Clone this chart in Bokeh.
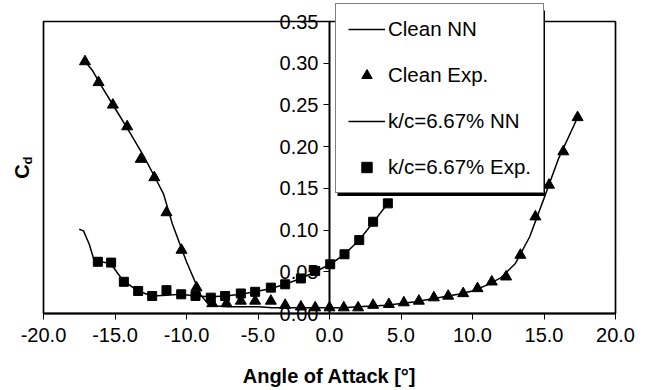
import numpy as np
from bokeh.plotting import figure
from bokeh.models import (Range1d, FixedTicker, NumeralTickFormatter, Legend,
                          LegendItem, Label, BoxAnnotation)
from bokeh.embed import file_html
from bokeh.resources import INLINE

# ---- data ----
clean_exp_x = [-17.1, -16.15, -15.15, -14.15, -13.2, -12.25, -11.4, -10.35, -9.3,
               -8.2, -7.2, -6.2, -5.2, -4.1, -3.1, -2.0, -1.0, 0.0, 1.0, 2.0,
               3.05, 4.15, 5.2, 6.25, 7.3, 8.3, 9.35, 10.35, 11.35, 12.35, 13.35,
               14.4, 15.35, 16.35, 17.35]
clean_exp_y = [0.302, 0.277, 0.250, 0.224, 0.185, 0.163, 0.121, 0.076, 0.031,
               0.012, 0.012, 0.015, 0.015, 0.015, 0.010, 0.008, 0.007, 0.007, 0.007, 0.007,
               0.010, 0.011, 0.013, 0.015, 0.019, 0.021, 0.024, 0.030, 0.038, 0.044, 0.070,
               0.116, 0.154, 0.194, 0.235]

clean_nn_x = [-17.1, -16.6, -16.0, -15.0, -14.0, -13.0, -12.2, -11.6, -11.0, -10.0,
              -9.0, -8.5, -8.0, -7.0, -6.0, -5.0, -4.0, -3.0, -2.0, -1.0, 0.0, 1.0,
              2.0, 3.0, 4.0, 5.0, 6.0, 7.0, 8.0, 9.0, 10.0, 11.0, 12.0, 13.0, 14.0,
              15.0, 16.0, 17.35]
clean_nn_y = [0.302, 0.292, 0.274, 0.246, 0.218, 0.189, 0.163, 0.143, 0.108, 0.062,
              0.022, 0.012, 0.009, 0.008, 0.008, 0.008, 0.007, 0.007, 0.007, 0.007, 0.007, 0.007,
              0.008, 0.009, 0.010, 0.012, 0.014, 0.017, 0.020, 0.023, 0.027, 0.034, 0.043, 0.060, 0.092,
              0.138, 0.185, 0.235]

rough_exp_x = [-16.2, -15.27, -14.38, -13.38, -12.4, -11.4, -10.37, -9.37, -8.3, -7.3,
               -6.2, -5.2, -4.1, -3.1, -2.0, -1.0, 0.05, 1.05, 2.08, 3.05, 4.08]
rough_exp_y = [0.062, 0.061, 0.038, 0.027, 0.021, 0.028, 0.023, 0.021, 0.019, 0.021,
               0.024, 0.026, 0.031, 0.035, 0.042, 0.051, 0.059, 0.071, 0.088, 0.110, 0.132]

rough_nn_x = [-17.5, -17.2, -16.8, -16.5, -16.0, -15.3, -14.8, -14.4, -13.4, -12.4,
              -11.4, -10.4, -9.4, -8.3, -7.3, -6.2, -5.2, -4.1, -3.1, -2.0, -1.0,
              0.05, 1.05, 2.08, 3.05, 4.08]
rough_nn_y = [0.101, 0.099, 0.083, 0.066, 0.062, 0.060, 0.048, 0.039, 0.027, 0.021,
              0.022, 0.023, 0.021, 0.020, 0.021, 0.023, 0.026, 0.030, 0.035, 0.042, 0.050,
              0.059, 0.071, 0.088, 0.109, 0.132]

x_ticks = [-20, -15, -10, -5, 0, 5, 10, 15, 20]
y_ticks = [0.0, 0.05, 0.10, 0.15, 0.20, 0.25, 0.30, 0.35]
x_lo, x_hi = -20, 20
y_lo, y_hi = 0.0, 0.35

FONT = "Liberation Sans"
W, H = 648, 390
# plot-area placement on the canvas (pixels)
PL, PR, PT, PB = 43, 33, 21, 77
sx = (W - PL - PR) / (x_hi - x_lo)
sy = (H - PT - PB) / (y_hi - y_lo)

p = figure(width=W, height=H, output_backend="svg", toolbar_location=None,
           x_range=Range1d(x_lo - PL / sx, x_hi + PR / sx),
           y_range=Range1d(y_lo - PB / sy, y_hi + PT / sy),
           min_border=0)
p.grid.visible = False
p.outline_line_color = None
p.background_fill_color = "white"
p.border_fill_color = "white"

# plot-area border
p.add_layout(BoxAnnotation(left=x_lo, right=x_hi, bottom=y_lo, top=y_hi,
                           fill_color=None, fill_alpha=0, line_color="black",
                           line_alpha=1.0, line_width=1.7, level="underlay"))

# x axis along y = 0
xa = p.xaxis[0]
xa.fixed_location = 0
xa.bounds = (x_lo, x_hi)
xa.ticker = FixedTicker(ticks=x_ticks)
xa.formatter = NumeralTickFormatter(format="0.0")
xa.axis_line_width = 2
xa.major_tick_out = 6
xa.major_tick_in = 0
xa.minor_tick_out = 0
xa.minor_tick_in = 0
xa.major_label_standoff = 8
xa.major_label_text_font = FONT
xa.major_label_text_font_size = "20px"
xa.major_label_text_color = "black"
xa.axis_label = "Angle of Attack [°]"
xa.axis_label_text_font = FONT
xa.axis_label_text_font_size = "20px"
xa.axis_label_text_font_style = "bold"
xa.axis_label_text_color = "black"
xa.axis_label_standoff = 20

# y axis at x = 0
ya = p.yaxis[0]
ya.fixed_location = 0
ya.bounds = (y_lo, y_hi)
ya.ticker = FixedTicker(ticks=y_ticks)
ya.formatter = NumeralTickFormatter(format="0.00")
ya.axis_line_width = 2
ya.major_tick_out = 6
ya.major_tick_in = 0
ya.minor_tick_out = 0
ya.minor_tick_in = 0
ya.major_label_standoff = 5
ya.major_label_text_font = FONT
ya.major_label_text_font_size = "20px"
ya.major_label_text_color = "black"

r1 = p.line(clean_nn_x, clean_nn_y, line_color="black", line_width=1.5)
r2 = p.scatter(clean_exp_x, clean_exp_y, marker="triangle", size=11,
               fill_color="black", line_color="black")
r3 = p.line(rough_nn_x, rough_nn_y, line_color="black", line_width=1.5)
r4 = p.scatter(rough_exp_x, rough_exp_y, marker="square", size=9,
               fill_color="black", line_color="black")

# legend drop shadow (screen pixels, from the bottom-left of the canvas)
p.add_layout(BoxAnnotation(left=337, right=544.5, bottom=194.5, top=H - 10,
                           left_units="screen", right_units="screen",
                           bottom_units="screen", top_units="screen",
                           fill_color="black", fill_alpha=1.0, line_alpha=0))

legend = Legend(items=[LegendItem(label="Clean NN", renderers=[r1]),
                       LegendItem(label="Clean Exp.", renderers=[r2]),
                       LegendItem(label="k/c=6.67% NN", renderers=[r3]),
                       LegendItem(label="k/c=6.67% Exp.", renderers=[r4])],
                location=(335, 197), margin=0, padding=12, spacing=20,
                glyph_width=37, glyph_height=26, label_height=26,
                label_standoff=3, label_text_font=FONT,
                label_text_font_size="20.5px", label_text_color="black",
                border_line_color="black", border_line_width=1.5,
                background_fill_color="white", background_fill_alpha=1.0)
p.add_layout(legend, "center")

# y axis title C_d (rotated)
p.add_layout(Label(x=21.5, y=H - 171, x_units="screen", y_units="screen", text="C",
                   angle=np.pi / 2, text_align="center", text_baseline="middle",
                   text_font=FONT, text_font_size="20px", text_font_style="bold",
                   text_color="black"))
p.add_layout(Label(x=26.5, y=H - 160, x_units="screen", y_units="screen", text="d",
                   angle=np.pi / 2, text_align="center", text_baseline="middle",
                   text_font=FONT, text_font_size="13px", text_font_style="bold",
                   text_color="black"))

open("out.html", "w").write(file_html(p, INLINE))
